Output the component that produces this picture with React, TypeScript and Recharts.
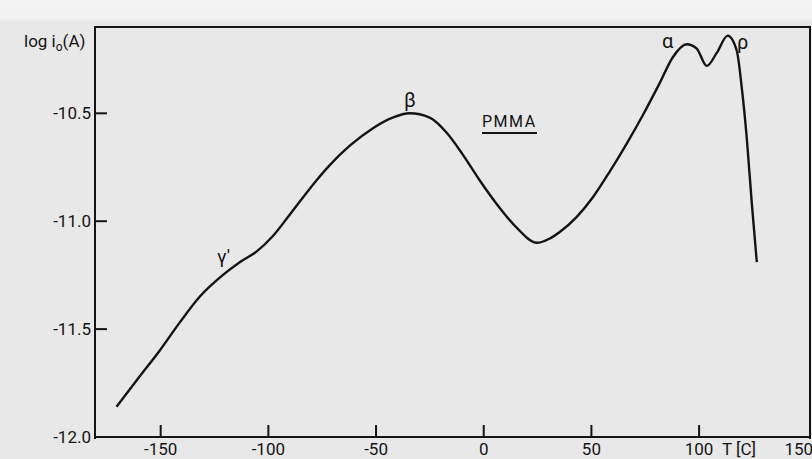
import { LineChart, Line, XAxis, YAxis } from 'recharts'

const temps = [
  -170.5, -159.8, -150.5, -141.2, -131.9, -121.2, -113.3, -105.4, -98.0, -90.1,
  -77.6, -71.5, -62.2, -51.6, -42.3, -34.4, -25.1, -17.2, -9.8, -1.9,
  6.0, 15.3, 24.6, 30.7, 35.3, 43.2, 50.6, 58.5, 66.4, 73.8,
  81.7, 87.8, 94.3, 98.9, 103.6, 108.2, 113.3, 117.5, 119.8, 122.1,
  124.5, 126.8,
]
const logCurrent = [
  -11.86, -11.72, -11.6, -11.47, -11.35, -11.25, -11.19, -11.14, -11.07, -10.97,
  -10.81, -10.74, -10.65, -10.57, -10.52, -10.5, -10.52, -10.59, -10.69, -10.81,
  -10.92, -11.03, -11.1, -11.08, -11.05, -10.98, -10.89, -10.77, -10.64, -10.51,
  -10.36, -10.24, -10.18, -10.2, -10.28, -10.22, -10.14, -10.21, -10.38, -10.61,
  -10.92, -11.19,
]
const xTicks = [-150, -100, -50, 0, 50, 100, 150]
const yTicks = [-12, -11.5, -11, -10.5]
const X_MIN = -180.5
const X_MAX = 151.5
const Y_MIN = -12
const Y_MAX = -10.1

const data = temps.map((t, i) => ({ t, v: logCurrent[i] }))

const INK = '#141414'
const FONT = 'Roboto, "Liberation Sans", sans-serif'

function XTick({ x, y, payload }: any) {
  const last = payload.value === 150
  return (
    <g>
      {!last && <line x1={x} x2={x} y1={y} y2={y - 12} stroke={INK} strokeWidth={2} />}
      <text x={last ? x - 8 : x} y={y + 18} textAnchor="middle" fill={INK} fontSize={17} fontFamily={FONT}>
        {payload.value}
      </text>
    </g>
  )
}

function YTick({ x, y, payload }: any) {
  const bottom = payload.value === -12
  return (
    <g>
      {!bottom && <line x1={x} x2={x + 12} y1={y} y2={y} stroke={INK} strokeWidth={2} />}
      <text x={x - 4} y={y + 6} textAnchor="end" fill={INK} fontSize={17} fontFamily={FONT}>
        {payload.value.toFixed(1)}
      </text>
    </g>
  )
}

const note = (left: number, top: number, size: number) => ({
  position: 'absolute' as const, left, top, fontSize: size, fontFamily: FONT, color: INK, lineHeight: 1,
})

export default function App() {
  return (
    <div style={{
      position: 'absolute', left: 0, top: 0, width: 812, height: 459,
      background: 'linear-gradient(#f4f4f4 0px, #f2f2f2 18px, #e8e8e8 22px, #e8e8e8 100%)',
    }}>
      <LineChart width={812} height={459} data={data} margin={{ top: 27, right: 2, bottom: 0, left: 0 }}>
        <XAxis dataKey="t" type="number" domain={[X_MIN, X_MAX]} ticks={xTicks} allowDataOverflow
          height={22} tickSize={0} tickMargin={0} tickLine={false} interval={0}
          axisLine={{ stroke: INK, strokeWidth: 2 }} tick={<XTick />} />
        <YAxis type="number" domain={[Y_MIN, Y_MAX]} ticks={yTicks} allowDataOverflow
          width={95} tickSize={0} tickMargin={0} tickLine={false} interval={0}
          axisLine={{ stroke: INK, strokeWidth: 2 }} tick={<YTick />} />
        <Line dataKey="v" type="monotone" stroke={INK} strokeWidth={2.4} dot={false} isAnimationActive={false} />
      </LineChart>
      {/* plot frame: left, top and right edges */}
      <div style={{
        position: 'absolute', left: 94, top: 26, width: 713, height: 411, zIndex: 2, pointerEvents: 'none',
        borderLeft: `2px solid ${INK}`, borderTop: `2px solid ${INK}`, borderRight: `2px solid ${INK}`,
      }} />

      <div style={note(24, 33, 17)}>
        log i<span style={{ fontSize: 12, position: 'relative', top: 4 }}>o</span>(A)
      </div>
      <div style={note(404, 90, 20)}>β</div>
      <div style={{ ...note(482, 114, 16), letterSpacing: 1.5, borderBottom: `2px solid ${INK}`, paddingBottom: 2 }}>PMMA</div>
      <div style={note(217, 247, 19)}>γ'</div>
      <div style={note(662, 31, 20)}>α</div>
      <div style={note(737, 32, 20)}>ρ</div>
      <div style={note(722, 441, 17)}>T [C]</div>
    </div>
  )
}
